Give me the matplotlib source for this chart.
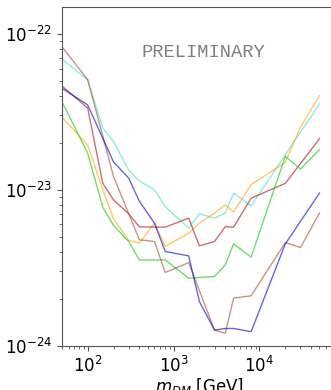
import numpy as np
import matplotlib
matplotlib.use("Agg")
import matplotlib.pyplot as plt

# mass points (GeV) and upper limits for each channel
m_brown = [50, 100, 200, 400, 600, 800, 1500, 3000, 4000, 5000, 8000, 20000, 30000, 50000]
lim_brown = [8.3e-23, 5.1e-23, 1.22e-23, 4.78e-24, 4.66e-24, 2.95e-24, 3.41e-24, 1.26e-24,
             1.20e-24, 2.02e-24, 2.09e-24, 4.59e-24, 4.26e-24, 7.09e-24]

m_blue = [50, 100, 200, 300, 400, 600, 800, 1500, 2000, 3000, 4000, 5000, 8000, 20000, 50000]
lim_blue = [4.49e-23, 3.51e-23, 1.51e-23, 1.19e-23, 8.44e-24, 6.11e-24, 4.02e-24, 3.77e-24,
            1.92e-24, 1.26e-24, 1.29e-24, 1.29e-24, 1.23e-24, 4.50e-24, 9.53e-24]

m_red = [50, 100, 150, 200, 300, 400, 800, 1500, 2000, 3000, 4000, 5000, 8000, 20000, 50000]
lim_red = [4.65e-23, 3.35e-23, 1.10e-23, 8.63e-24, 7.02e-24, 5.79e-24, 5.76e-24, 6.58e-24,
           4.37e-24, 4.66e-24, 5.81e-24, 5.76e-24, 8.84e-24, 1.10e-23, 2.13e-23]

m_cyan = [50, 100, 150, 200, 300, 400, 600, 800, 1500, 2000, 3000, 4000, 5000, 8000, 50000]
lim_cyan = [6.90e-23, 5.08e-23, 2.49e-23, 2.04e-23, 1.34e-23, 1.14e-23, 1.0e-23, 7.81e-24,
            5.68e-24, 7.02e-24, 6.58e-24, 7.09e-24, 9.53e-24, 7.89e-24, 3.56e-23]

m_orange = [50, 100, 150, 200, 300, 400, 600, 800, 1500, 2000, 3000, 4000, 5000, 8000,
            20000, 30000, 50000]
lim_orange = [2.93e-23, 1.94e-23, 1.0e-23, 6.52e-24, 4.74e-24, 4.55e-24, 6.11e-24, 4.34e-24,
              5.27e-24, 6.11e-24, 7.09e-24, 8.01e-24, 7.22e-24, 1.08e-23, 1.50e-23, 2.52e-23,
              4.01e-23]

m_green = [50, 100, 150, 200, 300, 400, 800, 1500, 3000, 4000, 5000, 8000, 20000, 30000, 50000]
lim_green = [3.69e-23, 1.72e-23, 7.72e-24, 5.92e-24, 4.66e-24, 3.55e-24, 3.55e-24, 2.71e-24,
             2.78e-24, 3.30e-24, 4.50e-24, 3.70e-24, 1.64e-23, 1.36e-23, 1.81e-23]

fig = plt.figure(figsize=(3.31, 3.9), dpi=100)
ax = fig.add_axes([0.1867, 0.1136, 0.8315, 0.8685])

ax.plot(m_cyan, lim_cyan, color="turquoise", alpha=0.6, lw=1)
ax.plot(m_orange, lim_orange, color="orange", alpha=0.6, lw=1)
ax.plot(m_red, lim_red, color="firebrick", alpha=0.65, lw=1)
ax.plot(m_green, lim_green, color="limegreen", alpha=0.7, lw=1)
ax.plot(m_brown, lim_brown, color="sienna", alpha=0.6, lw=1)
ax.plot(m_blue, lim_blue, color="mediumblue", alpha=0.6, lw=1)

ax.set_xscale("log")
ax.set_yscale("log")
ax.set_xlim(50, 8e4)
ax.set_ylim(1e-24, 1.49e-22)

for s in ["left", "top", "bottom", "right"]:
    ax.spines[s].set_color("#555555")
ax.tick_params(which="both", colors="#555555", labelcolor="black", labelsize=12)
ax.tick_params(which="minor", length=2)

ax.set_xlabel("$m_{DM}$ [GeV]", fontsize=12, labelpad=0)

ax.text(0.513, 0.867, "PRELIMINARY", transform=ax.transAxes, fontsize=13.5,
        family="Liberation Mono", color="gray", ha="center", va="center")

fig.savefig("out.png", dpi=100)
